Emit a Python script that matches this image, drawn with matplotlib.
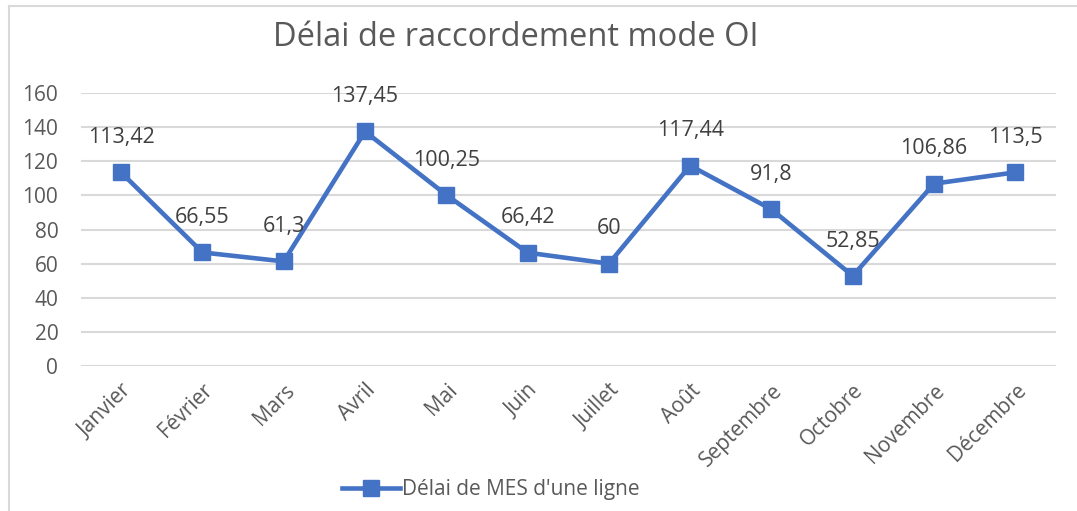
import matplotlib.pyplot as plt
from matplotlib.lines import Line2D

mois = ['Janvier', 'Février', 'Mars', 'Avril', 'Mai', 'Juin', 'Juillet',
        'Août', 'Septembre', 'Octobre', 'Novembre', 'Décembre']
delai = [113.42, 66.55, 61.3, 137.45, 100.25, 66.42, 60,
         117.44, 91.8, 52.85, 106.86, 113.5]
etiquettes = ['113,42', '66,55', '61,3', '137,45', '100,25', '66,42', '60',
              '117,44', '91,8', '52,85', '106,86', '113,5']
yticks = [0, 20, 40, 60, 80, 100, 120, 140, 160]

plt.rcParams['font.family'] = ['Open Sans', 'DejaVu Sans']
bleu = '#4472C4'

fig = plt.figure(figsize=(10.77, 5.11), dpi=100)
W, H = 1077, 511
ax = fig.add_axes([80.5 / W, 1 - 366 / H, (1056 - 80.5) / W, (366 - 93) / H])

x = list(range(len(mois)))
ax.plot(x, delai, color=bleu, lw=3.3, marker='s', markersize=11.5,
        label="Délai de MES d'une ligne", solid_joinstyle='miter')
for xi, v, t in zip(x, delai, etiquettes):
    ax.annotate(t, (xi, v), xytext=(0, 25), textcoords='offset points',
                ha='center', va='center', fontsize=15.5, color='#404040')

ax.set_xlim(-0.5, 11.5)
ax.set_ylim(0, 160)
ax.set_yticks(yticks)
ax.set_yticklabels([str(v) for v in yticks], fontsize=15, color='#595959')
ax.set_xticks(x)
ax.set_xticklabels(mois, rotation=45, ha='right', va='top',
                   rotation_mode='anchor', fontsize=15, color='#595959')
ax.tick_params(length=0)
ax.tick_params(axis='y', pad=16)
ax.tick_params(axis='x', pad=10)
ax.grid(axis='y', color='#D9D9D9', lw=1.5)
ax.set_axisbelow(True)
for s in ax.spines.values():
    s.set_visible(False)

fig.text(516 / W, 1 - 37 / H, 'Délai de raccordement mode OI',
         ha='center', va='center', fontsize=23.5, color='#595959')

fig.legend(handles=[Line2D([], [], color=bleu, lw=3.3, marker='s', markersize=11.5)],
           labels=["Délai de MES d'une ligne"], loc='center',
           bbox_to_anchor=(491 / W, 1 - 490 / H), frameon=False,
           fontsize=15, labelcolor='#595959', handlelength=2.8, handletextpad=0.1)

# bordure du graphique
fig.add_artist(Line2D([9 / W, 1], [1 - 6 / H, 1 - 6 / H], color='#D9D9D9', lw=1.5))
fig.add_artist(Line2D([9 / W, 9 / W], [0, 1 - 6 / H], color='#D9D9D9', lw=1.5))

fig.savefig('out.png', dpi=100)
